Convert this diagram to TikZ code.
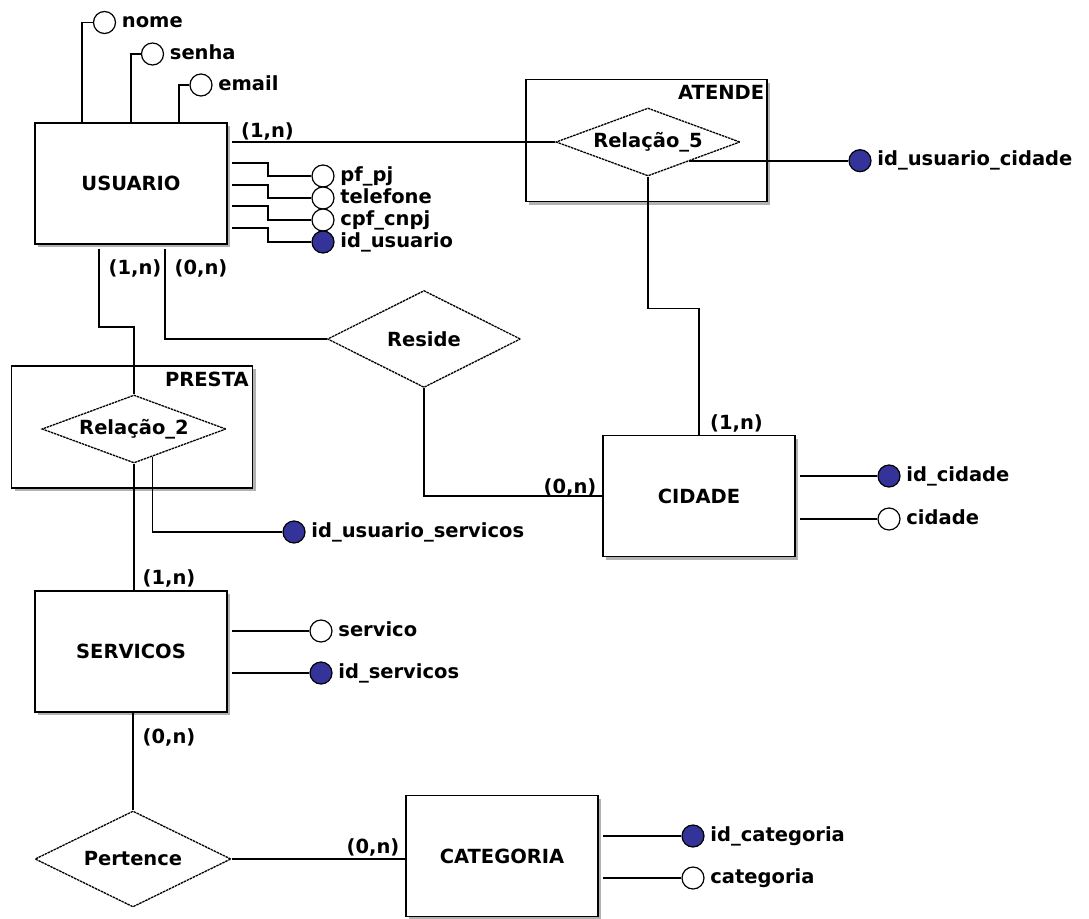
\documentclass[tikz,border=0pt]{standalone}
\usepackage{fontspec}
\setmainfont{DejaVu Sans}
\usepackage{tikz}
\usetikzlibrary{shapes.geometric, shadows, positioning, calc}
\definecolor{keyblue}{RGB}{51,51,153}

\begin{document}
\begin{tikzpicture}[x=1pt, y=-1pt,
    font=\bfseries\fontsize{19.5}{20}\selectfont,
    line width=1.6pt,
    entity/.style={draw, line width=1.9pt, fill=white, inner sep=0pt,
        minimum width=192pt, minimum height=121pt,
        drop shadow={shadow xshift=3pt, shadow yshift=-3pt, fill=black!30, opacity=1}},
    relbox/.style={entity, minimum width=241pt, minimum height=122pt},
    rel/.style={diamond, draw, fill=white, line width=1.3pt, dash pattern=on 2.5pt off 0.8pt,
        inner sep=0pt, aspect=2.7, minimum width=184pt, minimum height=68pt},
    attr/.style={circle, draw, line width=1.2pt, fill=white, minimum size=22pt, inner sep=0pt},
    keyattr/.style={attr, fill=keyblue},
    attrtext/.style={inner sep=0pt, text height=13pt, text depth=3pt},
    card/.style={inner sep=0pt, text height=13pt, text depth=3pt}]
    \useasboundingbox (0,0) rectangle (1089,918);

    % entities
    \node (usuario) [entity] at (131,183.5) {USUARIO};
    \node (cidade) [entity] at (699,496) {CIDADE};
    \node (servicos) [entity] at (131,651.5) {SERVICOS};
    \node (categoria) [entity] at (502,856) {CATEGORIA};

    % associative entities
    \node (atende) [relbox] at (646.5,140.5) {};
    \node (atende-t) [card, anchor=east] at ($(atende.north east)+(-3,16)$) {ATENDE};
    \node (presta) [relbox] at (132,427) {};
    \node (presta-t) [card, anchor=east] at ($(presta.north east)+(-4,16)$) {PRESTA};

    % relationships
    \node (r5) [rel] at (648,142) {Relação\_5};
    \node (r2) [rel] at (134,429) {Relação\_2};
    \node (reside) [rel, minimum width=193pt, minimum height=97pt] at (424,339) {Reside};
    \node (pertence) [rel, minimum width=196pt, minimum height=96pt] at (133,859) {Pertence};

    % attributes
    \node (at-nome) [attr] at (104.5,22.5) {};
    \node (tx-nome) [attrtext, right=5pt of at-nome] {nome};
    \node (at-senha) [attr] at (152.5,54) {};
    \node (tx-senha) [attrtext, right=5pt of at-senha] {senha};
    \node (at-email) [attr] at (201,85) {};
    \node (tx-email) [attrtext, right=5pt of at-email] {email};
    \node (at-pfpj) [attr] at (323,176) {};
    \node (tx-pfpj) [attrtext, right=5pt of at-pfpj] {pf\_pj};
    \node (at-tel) [attr] at (323,198) {};
    \node (tx-tel) [attrtext, right=5pt of at-tel] {telefone};
    \node (at-cpf) [attr] at (323,220) {};
    \node (tx-cpf) [attrtext, right=5pt of at-cpf] {cpf\_cnpj};
    \node (at-idu) [keyattr] at (323,242) {};
    \node (tx-idu) [attrtext, right=5pt of at-idu] {id\_usuario};
    \node (at-iduc) [keyattr] at (860,160.7) {};
    \node (tx-iduc) [attrtext, right=5pt of at-iduc] {id\_usuario\_cidade};
    \node (at-iduserv) [keyattr] at (294,532) {};
    \node (tx-iduserv) [attrtext, right=5pt of at-iduserv] {id\_usuario\_servicos};
    \node (at-idcid) [keyattr] at (889,476) {};
    \node (tx-idcid) [attrtext, right=5pt of at-idcid] {id\_cidade};
    \node (at-cid) [attr] at (889,519) {};
    \node (tx-cid) [attrtext, right=5pt of at-cid] {cidade};
    \node (at-serv) [attr] at (321,631) {};
    \node (tx-serv) [attrtext, right=5pt of at-serv] {servico};
    \node (at-idserv) [keyattr] at (321,673) {};
    \node (tx-idserv) [attrtext, right=5pt of at-idserv] {id\_servicos};
    \node (at-idcat) [keyattr] at (693,836) {};
    \node (tx-idcat) [attrtext, right=5pt of at-idcat] {id\_categoria};
    \node (at-cat) [attr] at (693,878) {};
    \node (tx-cat) [attrtext, right=5pt of at-cat] {categoria};

    % cardinalities
    \node (n-ua) [card] at (267.5,132) {(1,n)};
    \node (n-up) [card] at (135,269) {(1,n)};
    \node (n-ur) [card] at (201,269) {(0,n)};
    \node (n-ac) [card] at (736.5,424) {(1,n)};
    \node (n-rc) [card] at (570,488) {(0,n)};
    \node (n-ps) [card] at (169,579) {(1,n)};
    \node (n-sp) [card] at (169,738) {(0,n)};
    \node (n-pc) [card] at (373,848) {(0,n)};

    % relationship lines
    \draw ($(usuario.east |- r5.west)+(4,0)$) -- (r5.west);
    \draw (r5.south) -- ++(0,132) -| (cidade.north);
    \draw ($(usuario.south west)+(131,4)$) |- (reside.west);
    \draw (reside.south) |- (cidade.west);
    \draw ($(usuario.south west)+(65,4)$) -- ++(0,78) -| (r2.north);
    \draw (r2.south) -- (r2.south |- servicos.north);
    \draw ($(r2.south)!0.2!(r2.east)$) |- (at-iduserv);
    \draw ($(r5.south)!0.45!(r5.east)$) |- (at-iduc);
    \draw (servicos.south -| pertence.north) -- (pertence.north);
    \draw (pertence.east) -- (pertence.east -| categoria.west);

    % attribute lines
    \draw ($(usuario.north west)+(48,0)$) |- (at-nome);
    \draw ($(usuario.north west)+(97,0)$) |- (at-senha);
    \draw ($(usuario.north west)+(145,0)$) |- (at-email);
    \draw ($(usuario.north east)+(4,41)$) -- ++(36,0) |- (at-pfpj);
    \draw ($(usuario.north east)+(4,63)$) -- ++(36,0) |- (at-tel);
    \draw ($(usuario.north east)+(4,84)$) -- ++(36,0) |- (at-cpf);
    \draw ($(usuario.north east)+(4,106)$) -- ++(36,0) |- (at-idu);
    \draw ($(cidade.east |- at-idcid)+(4,0)$) -- (at-idcid);
    \draw ($(cidade.east |- at-cid)+(4,0)$) -- (at-cid);
    \draw ($(servicos.east |- at-serv)+(4,0)$) -- (at-serv);
    \draw ($(servicos.east |- at-idserv)+(4,0)$) -- (at-idserv);
    \draw ($(categoria.east |- at-idcat)+(4,0)$) -- (at-idcat);
    \draw ($(categoria.east |- at-cat)+(4,0)$) -- (at-cat);
\end{tikzpicture}
\end{document}
